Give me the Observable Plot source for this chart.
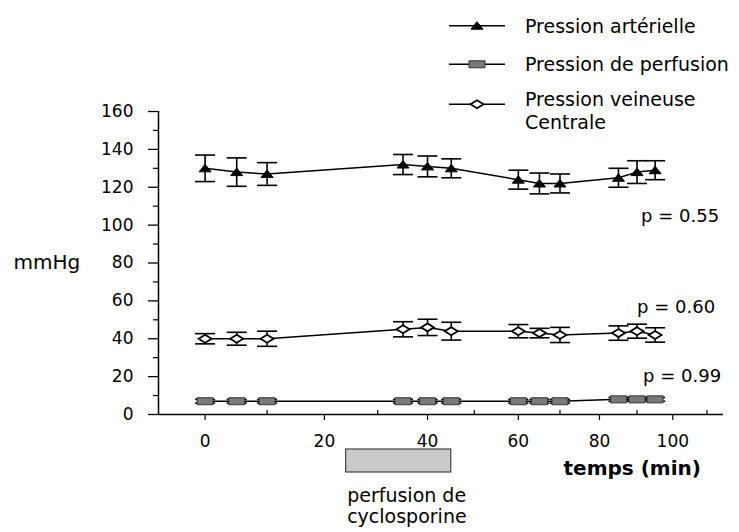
<!DOCTYPE html>
<html><head><meta charset="utf-8">
<script src="https://cdn.jsdelivr.net/npm/d3@7"></script>
<script src="https://cdn.jsdelivr.net/npm/@observablehq/plot@0.6"></script>
<style>
body{margin:0;background:#fff;font-family:"DejaVu Sans",sans-serif;}
#wrap{position:relative;width:739px;height:532px;overflow:hidden;}
#legend{position:absolute;left:0;top:0;}
</style></head><body>
<div id="wrap"><div id="chart"></div><svg id="legend" width="739" height="135"></svg></div>
<script>
// ---- data ----
const times = [0, 5, 10, 35, 40, 45, 60, 65, 70, 85, 90, 95];
const arterial    = [130, 128, 127, 132, 131, 130, 124, 122, 122, 125, 128, 129];
const arterialErr = [7, 7.5, 6, 5.3, 5.5, 5, 5, 5.5, 5, 5, 6, 5];
const perfusion    = [7, 7, 7, 7, 7, 7, 7, 7, 7, 8, 8, 8];
const perfusionErr = [1, 1, 1, 1, 1, 1, 1, 1, 1, 1, 1, 1];
const venous    = [40, 40, 40, 45, 46, 44, 44, 43, 42, 43, 44, 42];
const venousErr = [2.7, 3.4, 4, 4, 4.3, 4.7, 3.5, 2.5, 4, 3.8, 3.7, 3.8];
const seriesNames = ["Pression artérielle", "Pression de perfusion", "Pression veineuse\nCentrale"];
const pLabels = ["p = 0.55", "p = 0.99", "p = 0.60"];
const xTicks = [0, 20, 40, 60, 80, 100];
const xMinorTicks = [10, 30, 50, 70, 90, 110];
const yTicks = [0, 20, 40, 60, 80, 100, 120, 140, 160];
const yMinorTicks = [10, 30, 50, 70, 90, 110, 130, 150];
const infusion = {start: 24, end: 45, label: "perfusion de\ncyclosporine"};
const xLabel = "temps (min)";
const yLabel = "mmHg";

// ---- scale settings (the printed time axis is compressed: log of t + OFFSET) ----
const OFFSET = 118;
const xDomain = [-7 + OFFSET, 115 + OFFSET];

// ---- symbols ----
const triSym = {draw(c){c.moveTo(0,-4);c.lineTo(6,3.5);c.lineTo(-6,3.5);c.closePath();}};
const diaSym = {draw(c){c.moveTo(0,-4);c.lineTo(6.5,0);c.lineTo(0,4);c.lineTo(-6.5,0);c.closePath();}};
const recSym = {draw(c){c.rect(-8,-3.5,16,7);}};
const capSym = {draw(c){c.moveTo(-10,0);c.lineTo(10,0);}};

const rowsOf = (vals, errs) => times.map((t, i) => ({t, v: vals[i], e: errs[i]}));
const series = [
  {rows: rowsOf(arterial, arterialErr), symbol: triSym, fill: "#000", stroke: "#000", sw: 1, p: pLabels[0], pdx: -14, pdy: 46},
  {rows: rowsOf(perfusion, perfusionErr), symbol: recSym, fill: "#7a7a7a", stroke: "#333", sw: 1, p: pLabels[1], pdx: -12, pdy: -23},
  {rows: rowsOf(venous, venousErr), symbol: diaSym, fill: "#fff", stroke: "#000", sw: 1.8, p: pLabels[2], pdx: -18, pdy: -28}
];

const X = d => d.t + OFFSET;
const marks = [];
// axes lines
marks.push(Plot.ruleY([0], {stroke: "#000", strokeWidth: 1.5}));
marks.push(Plot.ruleX([xDomain[0]], {stroke: "#000", strokeWidth: 1.5}));
marks.push(Plot.axisY({ticks: yTicks, tickSize: 10, tickPadding: 15, fontSize: 17, label: null, strokeWidth: 1.3}));
marks.push(Plot.axisY({ticks: yMinorTicks, tickSize: 5, tickFormat: () => "", label: null, strokeWidth: 1.2}));
marks.push(Plot.axisX({ticks: xTicks.map(d => d + OFFSET), tickFormat: d => Math.round(d - OFFSET), tickSize: 6, tickPadding: 14, fontSize: 17, label: null, strokeWidth: 1.2}));
marks.push(Plot.ruleX(xMinorTicks, {x: d => d + OFFSET, insetTop: 299, stroke: "#000", strokeWidth: 1.2}));

for (const s of series) {
  marks.push(Plot.line(s.rows, {x: X, y: "v", stroke: "#000", strokeWidth: 1.5}));
  marks.push(Plot.ruleX(s.rows, {x: X, y1: d => d.v - d.e, y2: d => d.v + d.e, stroke: "#000", strokeWidth: 1.6}));
  marks.push(Plot.dot(s.rows, {x: X, y: d => d.v + d.e, symbol: capSym, fill: "none", stroke: "#000", strokeWidth: 1.6}));
  marks.push(Plot.dot(s.rows, {x: X, y: d => d.v - d.e, symbol: capSym, fill: "none", stroke: "#000", strokeWidth: 1.6}));
  marks.push(Plot.dot(s.rows, {x: X, y: "v", symbol: s.symbol, fill: s.fill, stroke: s.stroke, strokeWidth: s.sw}));
  const last = s.rows[s.rows.length - 1];
  marks.push(Plot.text([last], {x: X, y: "v", text: () => s.p, textAnchor: "start", dx: s.pdx, dy: s.pdy, fontSize: 18, fill: "#000"}));
}

// infusion box + label
marks.push(Plot.rect([infusion], {x1: d => d.start + OFFSET, x2: d => d.end + OFFSET, insetTop: 338, insetBottom: -58, fill: "#cacaca", stroke: "#444", strokeWidth: 1.2}));
marks.push(Plot.text([infusion], {x: d => d.start + OFFSET, frameAnchor: "bottom", text: "label", textAnchor: "start", lineAnchor: "top", dx: 1, dy: 73, fontSize: 19, lineHeight: 1.1, fill: "#000"}));
marks.push(Plot.text([xLabel], {frameAnchor: "bottom-right", text: d => d, textAnchor: "start", dx: -160, dy: 60, fontSize: 20, fontWeight: "bold", fill: "#000"}));
marks.push(Plot.text([yLabel], {frameAnchor: "left", text: d => d, textAnchor: "start", dx: -145, dy: 0, fontSize: 20, fill: "#000"}));

const chart = Plot.plot({
  width: 739, height: 532,
  marginLeft: 158, marginRight: 16, marginTop: 111, marginBottom: 118,
  x: {type: "log", domain: xDomain, label: null},
  y: {domain: [0, 160], label: null},
  style: {fontFamily: "DejaVu Sans", color: "#000", background: "#fff", overflow: "visible"},
  marks
});
document.getElementById("chart").appendChild(chart);

// ---- legend ----
const lg = d3.select("#legend");
const lgY = [25.7, 64.3, 104.3];
const lgTextY = [33, 70.5, 106];
series.forEach((s, i) => {
  const g = lg.append("g");
  g.append("line").attr("x1", 449).attr("x2", 505).attr("y1", lgY[i]).attr("y2", lgY[i]).attr("stroke", "#000").attr("stroke-width", 1.5);
  const p = d3.path(); s.symbol.draw(p);
  g.append("path").attr("d", p.toString()).attr("transform", `translate(477,${lgY[i]})`).attr("fill", s.fill).attr("stroke", s.stroke).attr("stroke-width", s.sw);
  const t = g.append("text").attr("x", 525).attr("y", lgTextY[i]).attr("font-family", "DejaVu Sans").attr("font-size", 19).attr("fill", "#000");
  seriesNames[i].split("\n").forEach((line, j) => {
    t.append("tspan").attr("x", 525).attr("dy", j === 0 ? 0 : 22.5).text(line);
  });
});
</script>
</body></html>
